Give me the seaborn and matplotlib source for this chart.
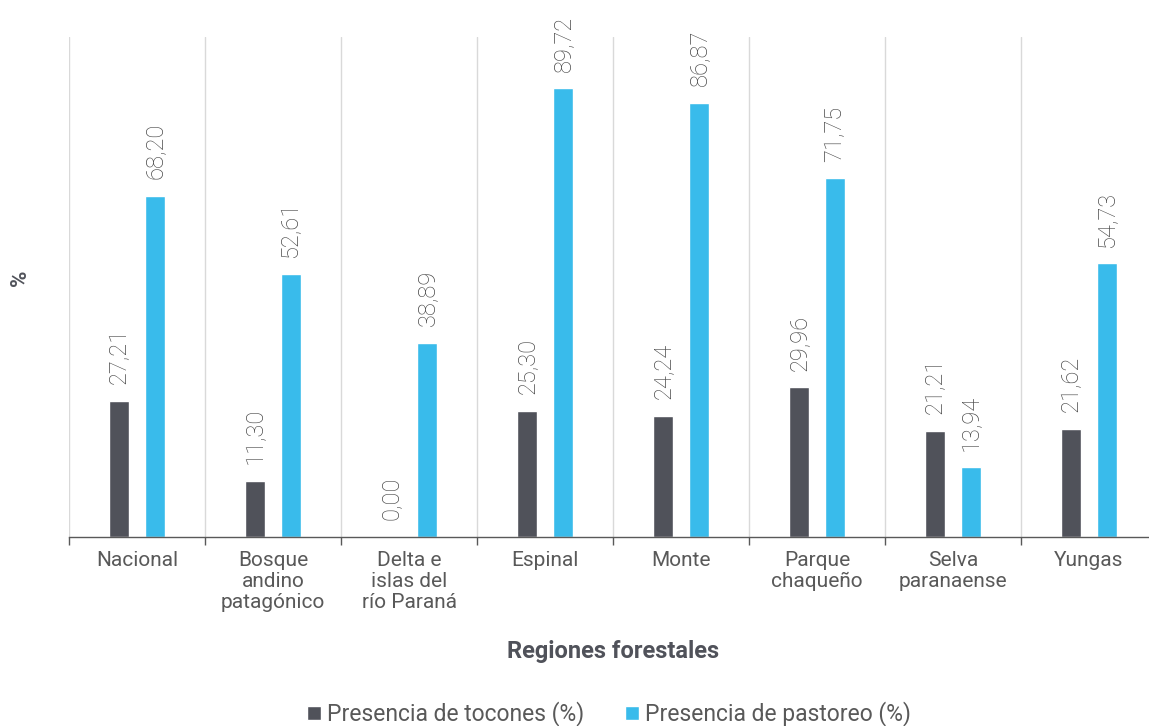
import matplotlib
matplotlib.use("Agg")
import matplotlib.pyplot as plt
import seaborn as sns
import pandas as pd

regiones = ["Nacional", "Bosque\nandino\npatagónico", "Delta e\nislas del\nrío Paraná",
            "Espinal", "Monte", "Parque\nchaqueño", "Selva\nparanaense", "Yungas"]
tocones = [27.21, 11.30, 0.00, 25.30, 24.24, 29.96, 21.21, 21.62]
pastoreo = [68.20, 52.61, 38.89, 89.72, 86.87, 71.75, 13.94, 54.73]
series = ["Presencia de tocones (%)", "Presencia de pastoreo (%)"]
colores = ["#50525a", "#39bbeb"]

df = pd.DataFrame({
    "region": regiones * 2,
    "valor": tocones + pastoreo,
    "serie": [series[0]] * len(regiones) + [series[1]] * len(regiones),
})

sns.set_theme(style="white")
plt.rcParams["font.family"] = ["Roboto", "DejaVu Sans"]

fig = plt.figure(figsize=(11.49, 7.26), dpi=100)
ax = fig.add_axes([69 / 1149, 189 / 726, 1088 / 1149, 500 / 726])

sns.barplot(data=df, x="region", y="valor", hue="serie", palette=colores,
            saturation=1, width=0.53, gap=0.47, ax=ax, legend=True)

ax.set_ylim(0, 100)
ax.set_xlim(-0.5, len(regiones) - 0.5)
ax.set_yticks([])

# value labels above each bar
for cont in ax.containers:
    for bar in cont:
        h = bar.get_height()
        ax.annotate(f"{h:.2f}".replace(".", ","),
                    (bar.get_x() + bar.get_width() / 2, h),
                    xytext=(0, 12), textcoords="offset points",
                    rotation=90, ha="center", va="bottom",
                    fontsize=17, fontweight="light", color="#4a4a4a",
                    annotation_clip=False)

# separators between regions
bounds = [i - 0.5 for i in range(len(regiones) + 1)]
ax.set_xticks(bounds, minor=True)
ax.grid(True, axis="x", which="minor", color="#d9d9d9", linewidth=1)
ax.tick_params(axis="x", which="minor", bottom=True, length=6, width=1,
               color="#595959", direction="out")
ax.tick_params(axis="x", which="major", bottom=False, length=0, pad=10)
ax.set_xticks(range(len(regiones)))
ax.set_xticklabels(regiones, fontsize=15, color="#595959", linespacing=1.15)

for s in ["top", "right", "left"]:
    ax.spines[s].set_visible(False)
ax.spines["bottom"].set_color("#595959")
ax.spines["bottom"].set_linewidth(1)

ax.set_xlabel("Regiones forestales", fontsize=17, fontweight="bold", color="#50525a", labelpad=20)
ax.set_ylabel("")
fig.text(20 / 1149, 1 - 278 / 726, "%", rotation=90, fontsize=16, fontweight="bold",
         color="#50525a", ha="center", va="center")

handles, labels = ax.get_legend_handles_labels()
ax.legend_.remove()
fig.legend(handles, labels, loc="center", bbox_to_anchor=(609 / 1149, 1 - 714 / 726),
           ncol=2, frameon=False, fontsize=16.5, handlelength=0.6, handleheight=0.6,
           handletextpad=0.25, columnspacing=1.8, labelcolor="#595959")

fig.savefig("out.png", dpi=100)
